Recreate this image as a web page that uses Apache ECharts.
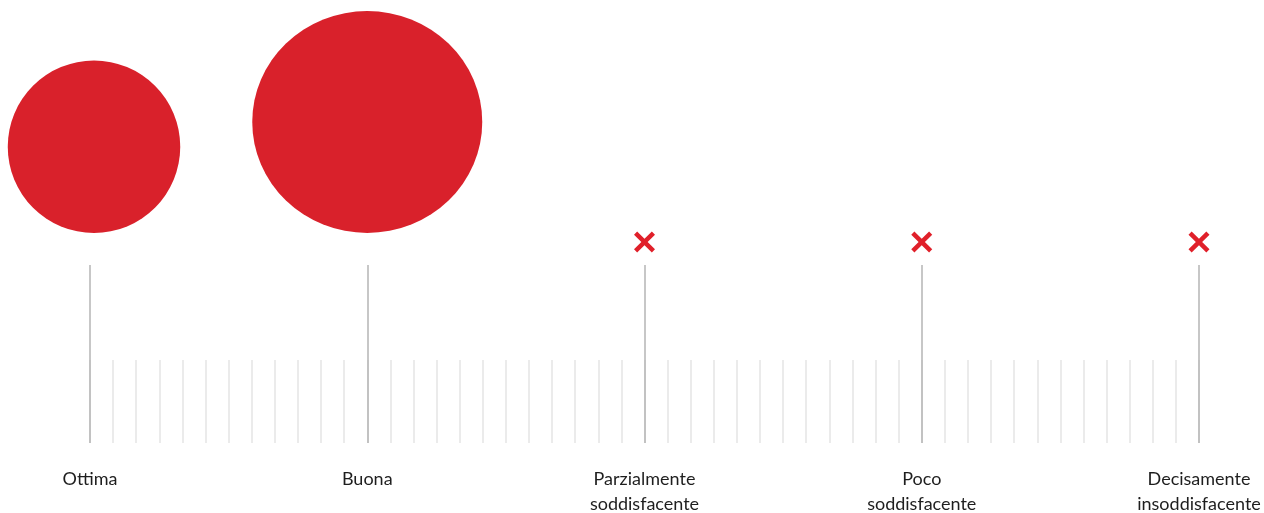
<!DOCTYPE html>
<html>
<head>
<meta charset="utf-8">
<script src="https://cdn.jsdelivr.net/npm/echarts@6/dist/echarts.min.js"></script>
<style>
  html, body { margin: 0; padding: 0; background: #fff; }
  #main { width: 1264px; height: 513px; }
</style>
</head>
<body>
<div id="main"></div>
<script>
// rating categories and share of answers (%)
const categories = ['Ottima', 'Buona', 'Parziale', 'Poco', 'Decisamente']
const tickLabels = ['Ottima', 'Buona', 'Parzialmente\nsoddisfacente', 'Poco\nsoddisfacente', 'Decisamente\ninsoddisfacente']
const values = [36, 64, 0, 0, 0]
const stepsPerCategory = 12

const RED = '#d9212b'
const crossPath = 'path://M0,3 L3,0 L10,7 L17,0 L20,3 L13,10 L20,17 L17,20 L10,13 L3,20 L0,17 L7,10 Z'

let chart = echarts.init(document.getElementById('main'))
const maxX = (categories.length - 1) * stepsPerCategory

let bubbles = []
let crosses = []
values.forEach((v, i) => {
  if (v > 0) {
    let s = 28.75 * Math.sqrt(v)
    bubbles.push({
      value: [i * stepsPerCategory, 0, v],
      // the big bubble is slightly squashed in the original
      symbolSize: v > 50 ? [s, s * 0.965] : [s, s],
      symbolOffset: i === 0 ? [4, '-50%'] : [0, '-50%']
    })
  } else {
    crosses.push([i * stepsPerCategory, 0])
  }
})

let option = {
  animation: false,
  grid: [
    { left: 90, right: 65, top: 265, bottom: 70, outerBoundsMode: 'none' },
    { left: 90, right: 65, top: 360, bottom: 70, outerBoundsMode: 'none' },
    { left: 90, right: 65, top: 0, height: 233, outerBoundsMode: 'none' }
  ],
  xAxis: [
    {
      gridIndex: 0, type: 'value', min: 0, max: maxX, interval: stepsPerCategory,
      z: 5,
      axisLine: { show: false }, axisTick: { show: false },
      splitLine: { show: true, lineStyle: { color: '#b4b4b4', width: 1.5 } },
      axisLabel: {
        margin: 24,
        color: '#1e1e1e',
        fontFamily: 'Lato',
        fontSize: 18,
        lineHeight: 25,
        formatter: (val) => tickLabels[Math.round(val / stepsPerCategory)]
      }
    },
    {
      gridIndex: 1, type: 'value', min: 0, max: maxX, interval: 1,
      z: 1,
      axisLine: { show: false }, axisTick: { show: false }, axisLabel: { show: false },
      splitLine: { show: true, lineStyle: { color: '#e4e4e4', width: 1.5 } }
    },
    { gridIndex: 2, type: 'value', min: 0, max: maxX, show: false }
  ],
  yAxis: [
    { gridIndex: 0, type: 'value', min: 0, max: 1, show: false },
    { gridIndex: 1, type: 'value', min: 0, max: 1, show: false },
    { gridIndex: 2, type: 'value', min: 0, max: 1, show: false }
  ],
  series: [
    {
      type: 'scatter',
      xAxisIndex: 2, yAxisIndex: 2,
      clip: false,
      data: bubbles,
      symbol: 'circle',
      itemStyle: { color: RED, opacity: 1 }
    },
    {
      type: 'scatter',
      xAxisIndex: 2, yAxisIndex: 2,
      clip: false,
      data: crosses,
      symbol: crossPath,
      symbolSize: 21,
      symbolOffset: [0, 9],
      itemStyle: { color: '#e0202a', opacity: 1 }
    }
  ]
}
option && chart.setOption(option)
</script>
</body>
</html>
